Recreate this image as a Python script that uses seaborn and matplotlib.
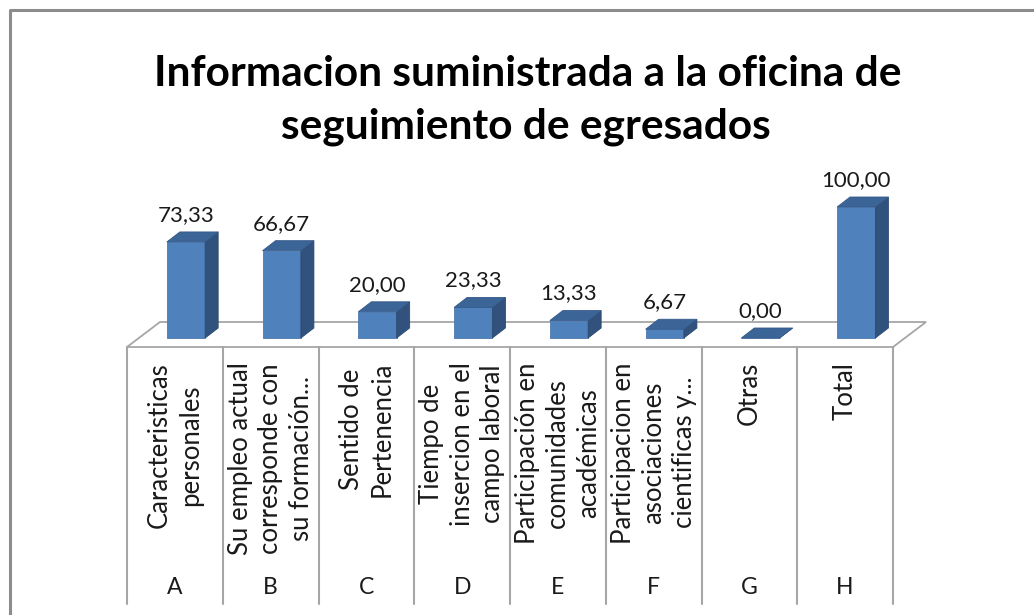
import matplotlib
matplotlib.use('Agg')

import matplotlib.pyplot as plt
import seaborn as sns
import pandas as pd
from matplotlib.patches import Polygon

# Datos del grafico
letras = ["A", "B", "C", "D", "E", "F", "G", "H"]
etiquetas = [
    "Caracteristicas\npersonales",
    "Su empleo actual\ncorresponde con\nsu formación...",
    "Sentido de\nPertenencia",
    "Tiempo de\ninsercion en el\ncampo laboral",
    "Participación en\ncomunidades\nacadémicas",
    "Participacion en\nasociaciones\ncientificas y...",
    "Otras",
    "Total",
]
porcentajes = [73.33, 66.67, 20.00, 23.33, 13.33, 6.67, 0.00, 100.00]

df = pd.DataFrame({"letra": letras, "valor": porcentajes})

sns.set_theme(style="white")
plt.rcParams['font.family'] = ['Lato', 'DejaVu Sans']

W, H = 1034, 615
fig = plt.figure(figsize=(W / 100, H / 100), dpi=100)

# capa de fondo en pixeles: marco, piso y tabla de categorias
fondo = fig.add_axes([0, 0, 1, 1])
fondo.set_xlim(0, W)
fondo.set_ylim(H, 0)
fondo.axis('off')

gris = "#8c8c8c"
fondo.plot([10, 10, W], [H, 10, 10], color=gris, lw=2.2, solid_capstyle='butt')

x_izq, col_w = 127, 95.75
y_frente, y_fondo, dx_piso = 347, 322, 33
x_der = x_izq + col_w * len(letras)
piso = Polygon([(x_izq, y_frente), (x_der, y_frente), (x_der + dx_piso, y_fondo), (x_izq + dx_piso, y_fondo)],
               closed=True, facecolor="white", edgecolor="#a6a6a6", lw=1.3)
fondo.add_patch(piso)
for i in range(len(letras) + 1):
    fondo.plot([x_izq + i * col_w] * 2, [y_frente, 604], color="#a6a6a6", lw=1.5)

for i, (letra, etq) in enumerate(zip(letras, etiquetas)):
    xc = x_izq + (i + 0.5) * col_w
    fondo.text(xc, 362, etq, rotation=90, ha='center', va='top', multialignment='center',
               fontsize=18.5, color="#1a1a1a", linespacing=1.28)
    fondo.text(xc, 588, letra, ha='center', va='center', fontsize=16.5, color="#1a1a1a")

fondo.text(528, 86, "Informacion suministrada a la oficina de", ha='center', va='baseline',
           fontsize=30.5, fontweight='bold', color="black")
fondo.text(526, 139, "seguimiento de egresados", ha='center', va='baseline',
           fontsize=30.5, fontweight='bold', color="black")

# barras (cara frontal) con seaborn
y0_px, escala = 338, 1.31          # pixel del valor 0 y pixeles por unidad
ax = fig.add_axes([x_izq / W, (H - 605) / H, 8 * col_w / W, 445 / H])
ax.patch.set_alpha(0)
sns.barplot(data=df, x="letra", y="valor", width=0.4, color="#4f81bd", saturation=1,
            edgecolor="#4a7ab3", linewidth=0.6, ax=ax)
xmin = -(186 - x_izq) / col_w
ax.set_xlim(xmin, xmin + 8)
ax.set_ylim(-(605 - y0_px) / escala, (y0_px - 160) / escala)
ax.axis('off')

# caras lateral y superior para el efecto 3D
dx, dy = 13 / col_w, 10 / escala
for p, v in zip(ax.patches, porcentajes):
    x0, w, h = p.get_x(), p.get_width(), p.get_height()
    lado = Polygon([(x0 + w, 0), (x0 + w + dx, dy), (x0 + w + dx, h + dy), (x0 + w, h)],
                   closed=True, facecolor="#30527c", edgecolor="#2c4a70", lw=0.6)
    techo = Polygon([(x0, h), (x0 + w, h), (x0 + w + dx, h + dy), (x0 + dx, h + dy)],
                    closed=True, facecolor="#3b6597", edgecolor="#35598a", lw=0.6)
    ax.add_patch(lado)
    ax.add_patch(techo)
    ax.annotate(f"{v:.2f}".replace(".", ","), (x0 + w / 2, h + dy), xytext=(0, 5),
                textcoords='offset points', ha='center', va='bottom', fontsize=16, color="#1a1a1a")

plt.savefig("out.png", dpi=100)
plt.close()
